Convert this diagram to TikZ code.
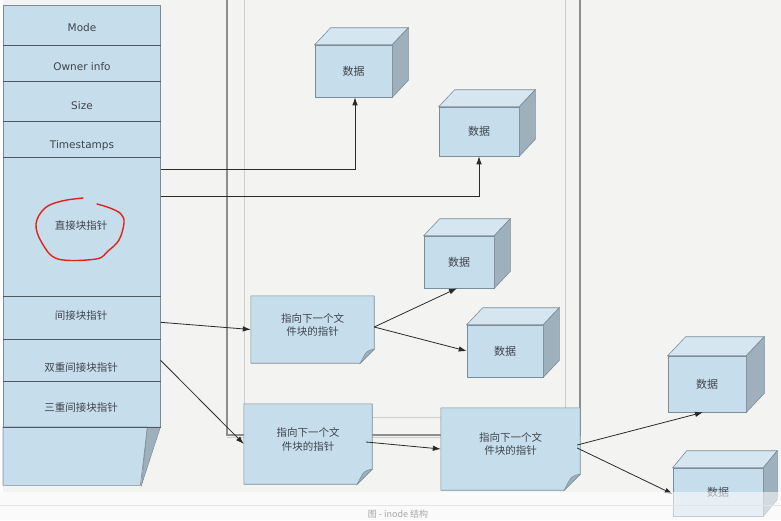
\documentclass[tikz,border=0pt]{standalone}
\usepackage{fontspec}
\setmainfont{DejaVu Sans}
\newfontfamily\cjk{Noto Sans CJK SC}
\usetikzlibrary{arrows.meta,calc}
\definecolor{bgc}{HTML}{F3F4F2}
\definecolor{boxc}{HTML}{C6DDEB}
\definecolor{topc}{HTML}{D5E6F1}
\definecolor{sidec}{HTML}{9DB0BC}
\definecolor{bordc}{HTML}{7C8D99}
\definecolor{sepc}{HTML}{4D5860}
\definecolor{txtc}{HTML}{3F454B}
\definecolor{arrc}{HTML}{2A2A2A}
\definecolor{framedark}{HTML}{8E8E8E}
\definecolor{framelight}{HTML}{CDCDCD}
\definecolor{redc}{HTML}{E3211B}
\newcommand\cubeshape[3]{%
  \filldraw[cubetopst] (#1.north west) -- ++(#2,#3) -- ([shift={(#2,#3)}]#1.north east) -- (#1.north east) -- cycle;
  \filldraw[cubesidest] (#1.north east) -- ++(#2,#3) -- ([shift={(#2,#3)}]#1.south east) -- (#1.south east) -- cycle;
}
\newcommand\noteshape[2]{%
  \filldraw[boxst] (#1.north west) -- (#1.north east) -- ([yshift=#2]#1.south east) -- ([xshift=-#2]#1.south east) -- (#1.south west) -- cycle;
  \filldraw[foldst] ([yshift=#2]#1.south east) .. controls ([xshift=-0.55*#2,yshift=0.9*#2]#1.south east) .. ([xshift=-#2]#1.south east) -- cycle;
}
\begin{document}
\begin{tikzpicture}[x=1pt,y=-1pt,
  boxst/.style={draw=bordc,fill=boxc,line width=0.6pt},
  cubetopst/.style={draw=bordc,fill=topc,line width=0.6pt},
  cubesidest/.style={draw=bordc,fill=sidec,line width=0.6pt},
  foldst/.style={draw=bordc,fill=sidec,line width=0.5pt},
  rowbox/.style={boxst,minimum width=157pt,inner sep=0pt,anchor=north west},
  sepline/.style={draw=sepc,line width=1pt},
  latintxt/.style={text=txtc,font=\fontsize{10.5pt}{13pt}\selectfont,inner sep=0pt,text height=7.6pt,text depth=0pt},
  cjktxt/.style={text=txtc,font=\cjk\fontsize{10.5pt}{13pt}\selectfont,inner sep=0pt,text height=8pt,text depth=0pt},
  notetxt/.style={text=txtc,font=\cjk\fontsize{10.5pt}{13.5pt}\selectfont,inner sep=0pt,align=center},
  cubefront/.style={boxst,inner sep=0pt,text=txtc,font=\cjk\fontsize{11pt}{13pt}\selectfont},
  noteframe/.style={inner sep=0pt},
  arr/.style={draw=arrc,line width=0.8pt,-{Latex[length=8pt,width=5.5pt]}}
]
\useasboundingbox (0,0) rectangle (781,520);
\fill[bgc] (0,0) rectangle (781,520);
\fill[white] (0,0) rectangle (3,492);

% window frame
\draw[framelight,line width=1pt] (244,0) -- (244,417) -- (565,417) -- (565,0);
\draw[framelight,line width=1pt] (227,437.5) -- (580,437.5);
\draw[framedark,line width=1.6pt] (227,0) -- (227,435) -- (580,435) -- (580,0);

% left inode column
\node[rowbox,minimum height=40pt] (r1) at (3,5) {};
\node[rowbox,minimum height=36pt] (r2) at (3,45) {};
\node[rowbox,minimum height=40pt] (r3) at (3,81) {};
\node[rowbox,minimum height=36pt] (r4) at (3,121) {};
\node[rowbox,minimum height=139pt] (r5) at (3,157) {};
\node[rowbox,minimum height=43pt] (r6) at (3,296) {};
\node[rowbox,minimum height=42pt] (r7) at (3,339) {};
\node[rowbox,minimum height=46pt] (r8) at (3,381) {};
\path node[noteframe,minimum width=157pt,minimum height=58pt,anchor=north west] (r9) at (3,427) {};
\filldraw[boxst] (r9.north west) -- ([xshift=-13pt]r9.north east) -- ([xshift=-20pt]r9.south east) -- (r9.south west) -- cycle;
\filldraw[foldst] ([xshift=-13pt]r9.north east) -- (r9.north east) -- ([xshift=-19pt]r9.south east) -- cycle;
\foreach \r in {r1,r2,r3,r4,r5,r6,r7,r8}{\draw[sepline] (\r.south west) -- (\r.south east);}

\node[latintxt] (t1) at (82,28) {Mode};
\node[latintxt] (t2) at (82,67) {Owner info};
\node[latintxt] (t3) at (82,106) {Size};
\node[latintxt] (t4) at (82,145) {Timestamps};
\node[cjktxt] (t5) at (81,225) {直接块指针};
\node[cjktxt] (t6) at (81,315) {间接块指针};
\node[cjktxt] (t7) at (81,367) {双重间接块指针};
\node[cjktxt] (t8) at (81,407) {三重间接块指针};

% data cubes
\node[cubefront,minimum width=77pt,minimum height=52pt] (cA) at (353.5,71) {数据};
\cubeshape{cA}{16pt}{17pt}
\node[cubefront,minimum width=80pt,minimum height=49pt] (cB) at (479,131.5) {数据};
\cubeshape{cB}{16pt}{17pt}
\node[cubefront,minimum width=70pt,minimum height=52pt] (cC) at (459,262) {数据};
\cubeshape{cC}{16pt}{17pt}
\node[cubefront,minimum width=76pt,minimum height=52pt] (cD) at (505,351) {数据};
\cubeshape{cD}{16pt}{17pt}
\node[cubefront,minimum width=78pt,minimum height=56pt] (cE) at (707,384) {数据};
\cubeshape{cE}{18pt}{19pt}
\node[cubefront,minimum width=90pt,minimum height=48pt] (cF) at (718,492) {数据};
\cubeshape{cF}{14pt}{17pt}

% pointer notes
\path node[noteframe,minimum width=123pt,minimum height=67pt] (n1) at (312.5,329.5) {};
\noteshape{n1}{14pt}
\node[notetxt] (n1t) at ([yshift=4.5pt]n1.center) {指向下一个文\\件块的指针};
\path node[noteframe,minimum width=128pt,minimum height=80pt] (n2) at (308,444) {};
\noteshape{n2}{15pt}
\node[notetxt] (n2t) at ([yshift=4.5pt]n2.center) {指向下一个文\\件块的指针};
\path node[noteframe,minimum width=139pt,minimum height=82pt] (n3) at (510.5,449) {};
\noteshape{n3}{16pt}
\node[notetxt] (n3t) at ([yshift=5pt]n3.center) {指向下一个文\\件块的指针};

% connectors
\draw[arr] ([yshift=-12pt]r5.north east) -| ([xshift=1.5pt]cA.south);
\draw[arr] ([yshift=-39pt]r5.north east) -| (cB.south);
\draw[arr] ([yshift=-4.5pt]r6.east) -- (n1.west);
\draw[arr] ([yshift=2.5pt]n1.east) -- ([xshift=-2pt]cC.south);
\draw[arr] ([yshift=2.5pt]n1.east) -- (cD.west);
\draw[arr] (r7.east) -- (n2.west);
\draw[arr] ([xshift=-6pt,yshift=2pt]n2.east) -- (n3.west);
\draw[arr] ([xshift=-3pt,yshift=4pt]n3.east) -- ([xshift=-4pt]cE.south);
\draw[arr] ([xshift=-3pt,yshift=1pt]n3.east) -- ([yshift=-2pt]cF.west);

% red hand-drawn mark
\draw[redc,line width=1.4pt,line cap=round] plot[smooth,tension=0.6] coordinates {(83,198) (62,201) (45,208) (36,224) (42,243) (58,259) (96,259) (108,251) (119,240) (124,223) (121,214) (110,208) (97,204)};

% faded bottom band and caption
\fill[white,opacity=0.55] (0,492) rectangle (781,520);
\draw[color=black!10,line width=0.8pt] (0,505) -- (781,505);
\node[text=black!35,font=\cjk\fontsize{9pt}{11pt}\selectfont,anchor=base] (cap) at (398,517) {图 - inode 结构};
\end{tikzpicture}
\end{document}
